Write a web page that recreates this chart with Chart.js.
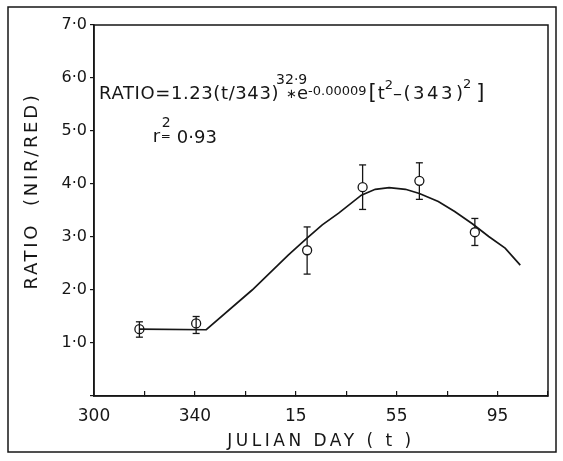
<!DOCTYPE html>
<html>
<head>
<meta charset="utf-8">
<script src="https://cdn.jsdelivr.net/npm/chart.js@4.4.0/dist/chart.umd.min.js"></script>
<style>
    html, body { margin: 0; padding: 0; background: #fff; }
    #wrap { width: 563px; height: 461px; position: relative; }
</style>
</head>
<body>
<div id="wrap"><canvas id="ratioChart" width="563" height="461"></canvas></div>
<script>
// Observed NIR/RED ratio with error bars (day numbers run past 365 into the next year)
const obsDay = [318, 340.5, 384.5, 406.5, 429, 451];
const obsRatio = [1.26, 1.37, 2.75, 3.94, 4.06, 3.09];
const obsLow = [1.11, 1.18, 2.30, 3.52, 3.71, 2.84];
const obsHigh = [1.40, 1.50, 3.19, 4.36, 4.40, 3.35];

// Fitted curve
const fitDay = [318, 344.5, 362.7, 377, 384, 390.5, 397, 406, 411.5, 417, 423.5, 429, 436.5, 443, 450, 456.5, 463, 469];
const fitRatio = [1.26, 1.25, 2.0, 2.66, 2.96, 3.23, 3.45, 3.79, 3.90, 3.93, 3.90, 3.82, 3.67, 3.48, 3.25, 3.01, 2.79, 2.47];

// Tick labels
const xLabelDays = [300, 340, 380, 420, 460];
const xLabelText = ['300', '340', '15', '55', '95'];
const yTickText = ['', '1·0', '2·0', '3·0', '4·0', '5·0', '6·0', '7·0'];

const INK = '#161616';
const FONT = "'DejaVu Sans'";

function toPoints(xs, ys) {
    return xs.map((x, i) => ({ x: x, y: ys[i] }));
}

// one small line dataset per error bar, caps drawn as 'line' point style
const errorSets = obsDay.map((d, i) => ({
    type: 'line',
    data: [{ x: d, y: obsLow[i] }, { x: d, y: obsHigh[i] }],
    borderColor: INK,
    borderWidth: 1.3,
    pointStyle: 'line',
    pointRadius: 3.5,
    pointBorderWidth: 1.3,
    pointBorderColor: INK,
    order: 2
}));

// draws text pieces one after another: [text, size, raise, gapAfter, letterSpacing]
function drawRuns(ctx, x, y, runs) {
    runs.forEach(r => {
        ctx.font = r[1] + 'px ' + FONT;
        ctx.letterSpacing = (r[4] || 0) + 'px';
        ctx.fillText(r[0], x, y - (r[2] || 0));
        x += ctx.measureText(r[0]).width + (r[3] || 0);
    });
    ctx.letterSpacing = '0px';
    return x;
}

const decorPlugin = {
    id: 'decor',
    beforeDraw(chart) {
        const ctx = chart.ctx;
        ctx.save();
        ctx.fillStyle = '#fff';
        ctx.fillRect(0, 0, chart.width, chart.height);
        ctx.strokeStyle = INK;
        ctx.lineWidth = 1.5;
        ctx.strokeRect(8, 7, 548, 445);
        ctx.restore();
    },
    afterDraw(chart) {
        const ctx = chart.ctx;
        const a = chart.chartArea;
        const xs = chart.scales.x;
        const ys = chart.scales.y;
        ctx.save();
        ctx.strokeStyle = INK;
        ctx.lineWidth = 1.5;
        ctx.strokeRect(a.left, a.top, a.right - a.left, a.bottom - a.top);

        ctx.fillStyle = INK;
        ctx.textBaseline = 'alphabetic';
        ctx.textAlign = 'left';

        // equation
        const x0 = xs.getPixelForValue(302);
        const y0 = ys.getPixelForValue(5.6);
        const x1 = drawRuns(ctx, x0, y0, [['RATIO=1.23(t/343)', 18, 0, 0, 0.6]]);
        drawRuns(ctx, x1 - 3, y0, [['32·9', 14, 15]]);
        drawRuns(ctx, x1 + 7, y0, [
            ['∗', 13, 1, 0],
            ['e', 18, 0, 0],
            ['-0.00009', 13, 4, 2],
            ['[', 21, 0, 1],
            ['t', 18, 0],
            ['2', 13, 10],
            ['–(', 18, 0, 1, 1.5],
            ['343', 18, 0, 1, 2.5],
            [')', 18, 0, 0],
            ['2', 13, 11, 5],
            [']', 21, 0]
        ]);

        // r squared
        const rx = xs.getPixelForValue(323.3);
        const ry = ys.getPixelForValue(4.79);
        drawRuns(ctx, rx, ry, [['r', 18, 0]]);
        drawRuns(ctx, rx + 9, ry, [['2', 14, 15]]);
        drawRuns(ctx, rx + 8, ry, [['=', 12, 2]]);
        drawRuns(ctx, rx + 24, ry + 1, [['0·93', 18, 0]]);

        // axis titles
        ctx.letterSpacing = '3.5px';
        ctx.font = '17px ' + FONT;
        ctx.textAlign = 'center';
        ctx.fillText('JULIAN DAY ( t )', (a.left + a.right) / 2, 446);
        ctx.translate(36.5, 191);
        ctx.rotate(-Math.PI / 2);
        ctx.letterSpacing = '2.7px';
        ctx.font = '18px ' + FONT;
        ctx.fillText('RATIO  (NIR/RED)', 0, 0);
        ctx.restore();
    }
};

const ctx = document.getElementById('ratioChart').getContext('2d');
new Chart(ctx, {
    type: 'scatter',
    data: {
        datasets: [{
            type: 'scatter',
            data: toPoints(obsDay, obsRatio),
            pointStyle: 'circle',
            pointRadius: 4.5,
            pointBorderWidth: 1.3,
            borderColor: INK,
            backgroundColor: ['rgba(0,0,0,0)', 'rgba(0,0,0,0)', '#fff', '#fff', '#fff', '#fff'],
            order: 1
        }, {
            type: 'line',
            data: toPoints(fitDay, fitRatio),
            borderColor: INK,
            borderWidth: 1.7,
            pointRadius: 0,
            tension: 0,
            fill: false,
            order: 3
        }].concat(errorSets)
    },
    options: {
        responsive: false,
        animation: false,
        layout: {
            padding: { left: 0, right: 13, top: 25, bottom: 0 }
        },
        plugins: {
            legend: { display: false },
            tooltip: { enabled: false }
        },
        scales: {
            x: {
                type: 'linear',
                min: 300,
                max: 480,
                afterFit: function(scale) { scale.height = 65; },
                border: { color: INK, width: 1.5 },
                grid: { drawOnChartArea: false, tickLength: -5, color: INK, lineWidth: 1.2 },
                ticks: {
                    stepSize: 20,
                    padding: 15,
                    maxRotation: 0,
                    autoSkip: false,
                    color: INK,
                    font: { family: FONT, size: 17 },
                    callback: function(value) {
                        const i = xLabelDays.indexOf(value);
                        return i >= 0 ? xLabelText[i] : '';
                    }
                }
            },
            y: {
                min: 0,
                max: 7,
                afterFit: function(scale) { scale.width = 94; },
                border: { color: INK, width: 1.5 },
                grid: { drawOnChartArea: false, tickLength: 4, color: INK, lineWidth: 1.2 },
                ticks: {
                    stepSize: 1,
                    padding: 3,
                    color: INK,
                    font: { family: FONT, size: 16 },
                    callback: function(value) {
                        return yTickText[value] || '';
                    }
                }
            }
        }
    },
    plugins: [decorPlugin]
});
</script>
</body>
</html>
